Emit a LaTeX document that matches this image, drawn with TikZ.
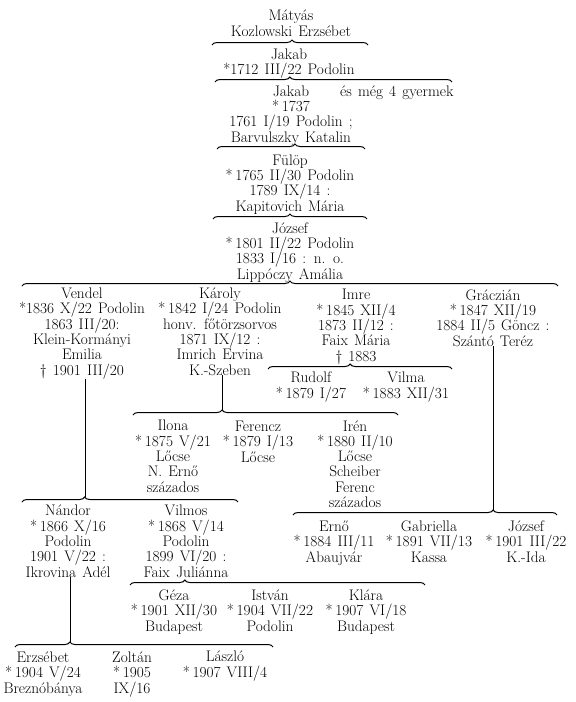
\documentclass[tikz,border=0pt]{standalone}
\usetikzlibrary{decorations.pathreplacing}
\newcommand\persfont{\fontsize{15.3}{15.3}\selectfont\lineskiplimit=-20pt\relax\spaceskip=0.4em plus 0.1em\relax}
\newcommand\bn{*\kern0.18em}
\begin{document}
\begin{tikzpicture}[x=1pt,y=-1pt,
  pers/.style={align=center, inner sep=0pt, anchor=base, font=\persfont},
  br/.style={decorate, decoration={brace, amplitude=5pt, aspect=#1}, line width=1pt},
  conn/.style={line width=1pt}]
\useasboundingbox[fill=white] (0,0) rectangle (576,702);

% ---- persons (anchor = baseline of the last line) ----
\node[pers] (matyas) at (291,36) {Mátyás\\Kozlowski Erzsébet};
\node[pers] (jakab1) at (289,74.5) {Jakab\\*1712 III/22 Podolin};
\node[pers] (jakab2) at (291,142) {Jakab\\\bn 1737\\1761 I/19 Podolin ;\\Barvulszky Katalin};
\node[pers, anchor=base west] (mas) at (340,96) {és még 4 gyermek};
\node[pers] (fulop) at (290,211) {Fülöp\\\bn 1765 II/30 Podolin\\1789 IX/14 :\\Kapitovich Mária};
\node[pers] (jozsef) at (290,279) {József\\\bn 1801 II/22 Podolin\\1833 I/16 : n. o.\\Lippóczy Amália};

\node[pers] (vendel) at (82,375) {Vendel\\*1836 X/22 Podolin\\1863 III/20:\\Klein-Kormányi\\Emilia\\\textdagger{} 1901 III/20};
\node[pers] (karoly) at (220,375) {Károly\\\bn 1842 I/24 Podolin\\honv. főtörzsorvos\\1871 IX/12 :\\Imrich Ervina\\K.-Szeben};
\node[pers] (imre) at (356,361) {Imre\\\bn 1845 XII/4\\1873 II/12 :\\Faix Mária\\\textdagger{} 1883};
\node[pers] (graczian) at (493,346) {Gráczián\\\bn 1847 XII/19\\1884 II/5 Göncz :\\Szántó Teréz};

\node[pers] (rudolf) at (311,398) {Rudolf\\\bn 1879 I/27};
\node[pers] (vilma) at (406,398) {Vilma\\\bn 1883 XII/31};

\node[pers] (ilona) at (173,492) {Ilona\\\bn 1875 V/21\\Lőcse\\N. Ernő\\százados};
\node[pers] (ferencz) at (258,462) {Ferencz\\\bn 1879 I/13\\Lőcse};
\node[pers] (iren) at (355,507.5) {Irén\\\bn 1880 II/10\\Lőcse\\Scheiber\\Ferenc\\százados};

\node[pers] (nandor) at (68,577) {Nándor\\\bn 1866 X/16\\Podolin\\1901 V/22 :\\Ikrovina Adél};
\node[pers] (vilmos) at (186,577) {Vilmos\\\bn 1868 V/14\\Podolin\\1899 VI/20 :\\Faix Juliánna};

\node[pers] (erno) at (334,562) {Ernő\\\bn 1884 III/11\\Abaujvár};
\node[pers] (gabriella) at (429,562) {Gabriella\\\bn 1891 VII/13\\Kassa};
\node[pers] (jozsefb) at (526,562) {József\\\bn 1901 III/22\\K.-Ida};

\node[pers] (geza) at (174,631) {Géza\\\bn 1901 XII/30\\Budapest};
\node[pers] (istvan) at (270,631) {István\\\bn 1904 VII/22\\Podolin};
\node[pers] (klara) at (366,631) {Klára\\\bn 1907 VI/18\\Budapest};

\node[pers] (erzsebet) at (43,693) {Erzsébet\\\bn 1904 V/24\\Breznóbánya};
\node[pers] (zoltan) at (132,693) {Zoltán\\\bn 1905\\IX/16};
\node[pers] (laszlo) at (225,677) {László\\\bn 1907 VIII/4};

% ---- braces ----
\draw[br=0.513] (212,45) -- (368,45);
\draw[br=0.316] (215,82) -- (452,82);
\draw[br=0.527] (217,149) -- (365,149);
\draw[br=0.5]   (213,219) -- (367,219);
\draw[br=0.5]   (22,286) -- (558,286);
\draw[br=0.446] (268,369) -- (452,369);
\draw[br=0.336] (133,415) -- (398,415);
\draw[br=0.29]  (22,502) -- (238,502);
\draw[br=0.758] (293,515) -- (557,515);
\draw[br=0.186] (130,585) -- (425,585);
\draw[br=0.213] (15,647) -- (273,647);

% ---- brace tips ----
\coordinate (tipV) at (85,497);
\coordinate (tipK) at (222,410);
\coordinate (tipG) at (493,510);
\coordinate (tipN) at (70,642);

% ---- connectors ----
\draw[conn] (vendel.south -| tipV) -- (tipV);
\draw[conn] (karoly.south -| tipK) -- (tipK);
\draw[conn] (graczian.south -| tipG) -- (tipG);
\draw[conn] (nandor.south -| tipN) -- (tipN);
\end{tikzpicture}
\end{document}
